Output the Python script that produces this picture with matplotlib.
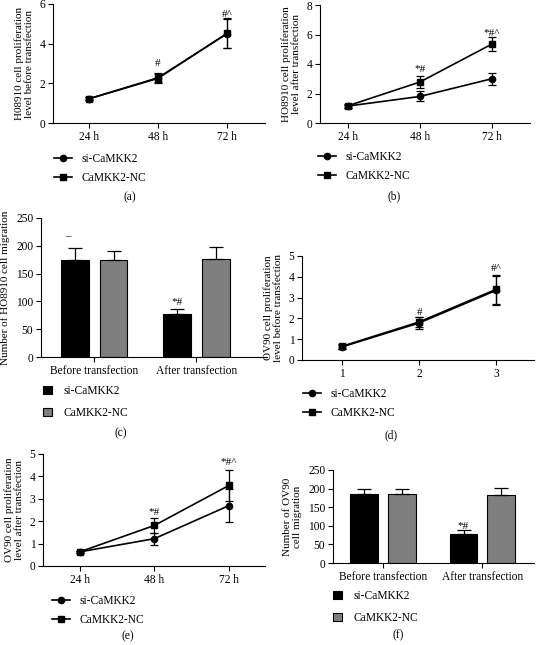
import numpy as np
import matplotlib
matplotlib.use("Agg")
import matplotlib.pyplot as plt

plt.rcParams['font.family'] = ['Liberation Serif', 'DejaVu Serif']
plt.rcParams['font.size'] = 8
plt.rcParams['axes.linewidth'] = 0.8

# ---- data ----
hours = ['24 h', '48 h', '72 h']
groups = ['Before transfection', 'After transfection']
d_ticks = [1, 2, 3]

a_si = [1.22, 2.28, 4.50]
a_si_err = [0.08, 0.20, 0.72]
a_nc = [1.22, 2.25, 4.52]
a_nc_err = [0.08, 0.25, 0.75]

b_si = [1.15, 1.80, 3.00]
b_si_err = [0.10, 0.34, 0.40]
b_nc = [1.17, 2.78, 5.35]
b_nc_err = [0.12, 0.40, 0.45]

c_si = [175, 77]
c_si_err = [21, 10]
c_nc = [175, 177]
c_nc_err = [15, 21]

d_si = [0.63, 1.78, 3.35]
d_si_err = [0.10, 0.30, 0.70]
d_nc = [0.66, 1.83, 3.40]
d_nc_err = [0.12, 0.25, 0.70]

e_si = [0.63, 1.22, 2.70]
e_si_err = [0.04, 0.27, 0.72]
e_nc = [0.63, 1.81, 3.60]
e_nc_err = [0.04, 0.35, 0.70]

f_si = [186, 79]
f_si_err = [14, 11]
f_nc = [186, 182]
f_nc_err = [14, 20]

W, H = 536, 645
FS = 8.3
YFS = 8
NFS = 8
fig = plt.figure(figsize=(W / 100, H / 100), dpi=100)


def px_axes(left, top, right, bottom):
    return fig.add_axes([left / W, 1 - bottom / H, (right - left) / W, (bottom - top) / H])


def style(ax):
    for s in ('top', 'right'):
        ax.spines[s].set_visible(False)
    ax.tick_params(length=3.5, width=0.8, pad=2, labelsize=FS)


def line_panel(ax, x, si, si_err, nc, nc_err, ymax, ystep, xlim, xlabels, notes, ylabel):
    ek = dict(fmt='none', ecolor='black', capsize=3.2, elinewidth=0.9, capthick=0.9)
    ax.errorbar(x, si, yerr=si_err, **ek)
    ax.errorbar(x, nc, yerr=nc_err, **ek)
    l1, = ax.plot(x, si, color='black', lw=1.2, marker='o', ms=4.5, label='si-CaMKK2')
    l2, = ax.plot(x, nc, color='black', lw=1.2, marker='s', ms=5, label='CaMKK2-NC')
    ax.set_ylim(0, ymax)
    ax.set_yticks(np.arange(0, ymax + 0.01, ystep))
    ax.set_xlim(*xlim)
    ax.set_xticks(x)
    ax.set_xticklabels(xlabels)
    ax.set_ylabel(ylabel, labelpad=4, linespacing=1.2, fontsize=YFS)
    for xi, yi, t in notes:
        ax.text(xi, yi, t, ha='center', va='center', fontsize=NFS)
    style(ax)
    return [l1, l2]


def bar_panel(ax, si, si_err, nc, nc_err, width, off, cap, xlim, notes, ylabel):
    x = np.arange(len(groups))
    ek = dict(fmt='none', ecolor='black', capsize=cap, elinewidth=0.9, capthick=0.9)
    b1 = ax.bar(x - off, si, width, color='black', edgecolor='black', lw=0.8, label='si-CaMKK2')
    ax.errorbar(x - off, si, yerr=[np.zeros(2), si_err], **ek)
    b2 = ax.bar(x + off, nc, width, color='#7f7f7f', edgecolor='black', lw=0.8, label='CaMKK2-NC')
    ax.errorbar(x + off, nc, yerr=[np.zeros(2), nc_err], **ek)
    ax.set_ylim(0, 250)
    ax.set_yticks(np.arange(0, 251, 50))
    ax.set_xlim(*xlim)
    ax.set_xticks(x)
    ax.set_xticklabels(groups)
    ax.set_ylabel(ylabel, labelpad=4, linespacing=1.2, fontsize=YFS)
    for xi, yi, t in notes:
        ax.text(xi, yi, t, ha='center', va='center', fontsize=NFS)
    style(ax)
    return [b1, b2]


def px_legend(handles, left, top, bars=False):
    kw = dict(loc='upper left', bbox_to_anchor=(left / W, 1 - top / H), frameon=False,
              borderpad=0, borderaxespad=0, fontsize=FS)
    if bars:
        fig.legend(handles=handles, handlelength=0.75, handleheight=0.75, labelspacing=0.85,
                   handletextpad=1.0, **kw)
    else:
        fig.legend(handles=handles, handlelength=1.6, labelspacing=0.6, handletextpad=0.8, **kw)


def px_label(x, y, t):
    fig.text(x / W, 1 - y / H, t, ha='center', va='center', fontsize=FS)


# (a)
ax = px_axes(53, 4, 265, 123)
h = line_panel(ax, [0, 1, 2], a_si, a_si_err, a_nc, a_nc_err, 6, 2, (-0.52, 2.55), hours,
               [(1, 3.0, '#'), (2, 5.45, '#^')],
               'H08910 cell proliferation\nlevel before transfection')
px_legend(h, 54, 153)
px_label(130, 197, '(a)')

# (b)
ax = px_axes(320, 5, 530, 123)
h = line_panel(ax, [0, 1, 2], b_si, b_si_err, b_nc, b_nc_err, 8, 2, (-0.39, 2.53), hours,
               [(1, 3.65, '*#'), (2, 6.1, '*#^')],
               'HO8910 cell proliferation\nlevel after transfection')
px_legend(h, 318, 151)
px_label(394, 196, '(b)')

# (c)
ax = px_axes(41, 218, 267, 357)
h = bar_panel(ax, c_si, c_si_err, c_nc, c_nc_err, 0.27, 0.19, 5, (-0.52, 1.69),
              [(1 - 0.19, 98, '*#'), (-0.19 - 0.07, 216, '\u2013')],
              'Number of HO8910 cell migration')
px_legend(h, 43, 385, bars=True)
px_label(121, 433, '(c)')

# (d)
ax = px_axes(302, 256, 534, 360)
h = line_panel(ax, d_ticks, d_si, d_si_err, d_nc, d_nc_err, 5, 1, (0.48, 3.49), d_ticks,
               [(2, 2.3, '#'), (3, 4.4, '#^')],
               'OV90 cell proliferation\nlevel before transfection')
px_legend(h, 303, 388)
px_label(391, 435, '(d)')

# (e)
ax = px_axes(43, 454, 265, 566)
h = line_panel(ax, [0, 1, 2], e_si, e_si_err, e_nc, e_nc_err, 5, 1, (-0.49, 2.48), hours,
               [(1, 2.4, '*#'), (2, 4.6, '*#^')],
               'OV90 cell proliferation\nlevel after transfection')
px_legend(h, 52, 595)
px_label(128, 636, '(e)')

# (f)
ax = px_axes(333, 470, 534, 563)
h = bar_panel(ax, f_si, f_si_err, f_nc, f_nc_err, 0.28, 0.19, 5, (-0.505, 1.52),
              [(1 - 0.19, 99, '*#')],
              'Number of OV90\ncell migration')
px_legend(h, 333, 590, bars=True)
px_label(398, 635, '(f)')

fig.savefig('out.png', dpi=100)
